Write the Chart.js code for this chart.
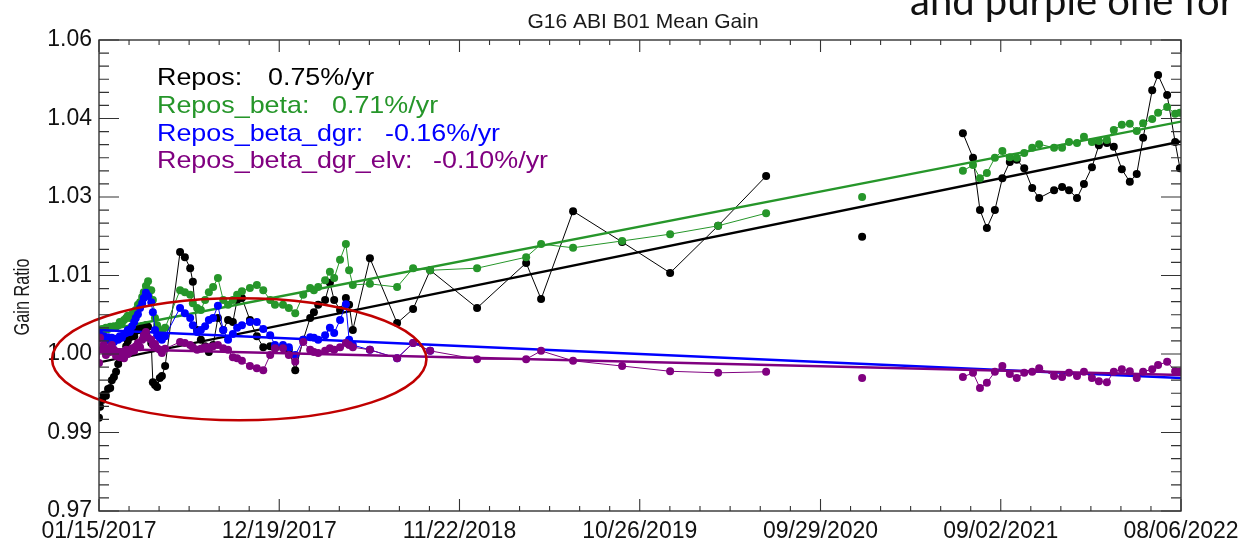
<!DOCTYPE html>
<html><head><meta charset="utf-8">
<script src="https://cdn.jsdelivr.net/npm/chart.js@4.4.1/dist/chart.umd.min.js"></script>
<style>html,body{margin:0;padding:0;background:#fff;overflow:hidden}#wrap{width:1239px;height:544px;position:relative}</style>
</head><body><div id="wrap"><canvas id="c" width="1239" height="544"></canvas></div>
<script>
// ---------- data ----------
const xTickLabels = ['01/15/2017','12/19/2017','11/22/2018','10/26/2019','09/29/2020','09/02/2021','08/06/2022'];
const yTickValues = [0.970,0.985,1.000,1.015,1.030,1.045,1.060];
const yTickLabels = ['0.97','0.99','1.00','1.01','1.03','1.04','1.06'];

// days since 01/15/2017
const dates = [
0,2,6,9,13,17,21,24,28,32,36,39,43,47,51,54,58,62,66,69,73,77,81,84,88,92,98,101,105,109,114,118,124,
152,161,171,176,184,191,199,206,214,223,233,242,251,259,268,283,296,308,321,330,345,356,368,383,396,403,411,424,433,441,452,463,469,476,508,559,589,621,
709,801,829,889,981,1071,1161,1251,1431,
1620,1639,1652,1665,1680,1694,1708,1721,1735,1750,1763,1791,1806,1819,1834,1847,1862,1875,1890,1903,1918,1933,1946,1958,1975,1986,2003,2018,2027
];

const repos = [
0.9878,0.9899,0.9912,0.9922,0.9920,0.9933,0.9935,0.9950,0.9956,0.9966,0.9981,0.9992,0.9996,1.0004,1.0015,1.0025,1.0032,1.0038,1.0034,1.0044,1.0048,1.0046,1.0053,1.0050,1.0055,1.0052,1.0021,0.9946,0.9941,0.9937,0.9954,0.9958,0.9977,
1.0195,1.0185,1.0164,1.0138,1.0046,1.0027,1.0015,1.0004,1.0017,1.0069,1.0046,1.0065,1.0061,1.0103,1.0107,1.0065,1.0034,1.0013,1.0015,1.0011,1.0013,1.0008,0.9969,1.0027,1.0069,1.0080,1.0094,1.0103,1.0136,1.0103,1.0084,1.0107,1.0094,1.0046,1.0183,1.0059,1.0086,1.0160,
1.0088,1.0174,1.0105,1.0273,1.0214,1.0155,1.0245,1.0340,1.0224,
1.0422,1.0375,1.0275,1.0241,1.0275,1.0336,1.0367,1.0371,1.0355,1.0317,1.0298,1.0313,1.0319,1.0313,1.0298,1.0325,1.0357,1.0399,1.0403,1.0396,1.0353,1.0329,1.0344,1.0413,1.0504,1.0533,1.0495,1.0405,1.0355
];
const reposBeta = [
1.0044,1.0046,1.0048,1.0046,1.0050,1.0048,1.0052,1.0050,1.0053,1.0052,1.0055,1.0061,1.0059,1.0065,1.0069,1.0073,1.0069,1.0076,1.0080,1.0084,1.0094,1.0099,1.0109,1.0118,1.0130,1.0139,1.0122,1.0103,1.0069,1.0055,1.0046,1.0042,1.0050,
1.0122,1.0118,1.0113,1.0097,1.0088,1.0084,1.0103,1.0118,1.0128,1.0145,1.0103,1.0094,1.0103,1.0113,1.0120,1.0126,1.0132,1.0122,1.0103,1.0094,1.0094,1.0088,1.0078,1.0113,1.0126,1.0122,1.0128,1.0141,1.0157,1.0145,1.0180,1.0210,1.0160,1.0132,1.0134,1.0128,1.0164,1.0160,
1.0164,1.0185,1.0210,1.0203,1.0216,1.0229,1.0245,1.0269,1.0300,
1.0350,1.0361,1.0336,1.0346,1.0375,1.0388,1.0376,1.0375,1.0384,1.0394,1.0401,1.0394,1.0394,1.0405,1.0403,1.0415,1.0405,1.0407,1.0409,1.0428,1.0438,1.0440,1.0426,1.0441,1.0449,1.0461,1.0472,1.0459,1.0461
];
const reposBetaDgr = [
1.0040,1.0036,1.0031,1.0034,1.0027,1.0032,1.0025,1.0031,1.0023,1.0029,1.0027,1.0034,1.0031,1.0038,1.0040,1.0046,1.0042,1.0053,1.0061,1.0069,1.0076,1.0088,1.0097,1.0107,1.0117,1.0111,1.0099,1.0080,1.0046,1.0036,1.0031,1.0027,1.0034,
1.0088,1.0078,1.0069,1.0055,1.0042,1.0046,1.0053,1.0065,1.0069,1.0092,1.0046,1.0027,1.0038,1.0050,1.0055,1.0061,1.0061,1.0048,1.0036,1.0017,1.0017,1.0013,0.9998,1.0027,1.0032,1.0031,1.0027,1.0036,1.0050,1.0040,1.0065,1.0095,1.0027,1.0017,1.0008,0.9992,1.0021,1.0006
];
const reposBetaDgrElv = [
0.9983,1.0031,1.0008,1.0017,0.9998,1.0011,1.0004,1.0017,1.0008,0.9996,1.0004,0.9994,1.0002,0.9992,1.0008,1.0000,1.0004,1.0011,1.0006,1.0015,1.0021,1.0013,1.0027,1.0036,1.0042,1.0031,1.0027,1.0017,1.0019,1.0011,1.0008,1.0002,1.0010,
1.0023,1.0021,1.0017,1.0013,1.0008,1.0010,1.0013,1.0013,1.0015,1.0017,1.0011,1.0008,0.9994,0.9992,0.9987,0.9977,0.9973,0.9969,0.9998,1.0011,1.0011,0.9998,0.9985,1.0023,1.0008,1.0004,1.0002,1.0006,1.0011,1.0008,1.0013,1.0021,1.0017,1.0013,1.0008,0.9992,1.0021,1.0006,
0.9990,0.9990,1.0006,0.9987,0.9977,0.9967,0.9964,0.9966,0.9954,
0.9956,0.9964,0.9935,0.9945,0.9966,0.9977,0.9962,0.9954,0.9964,0.9966,0.9973,0.9958,0.9956,0.9964,0.9958,0.9966,0.9954,0.9948,0.9946,0.9966,0.9971,0.9967,0.9954,0.9966,0.9971,0.9979,0.9985,0.9967,0.9966
];

// linear fits: value at first and last day
const trendStart = [0.9984, 1.0043, 1.0046, 1.0010];
const trendEnd   = [1.0406, 1.0444, 0.9954, 0.9960];

const seriesNames = ['Repos:', 'Repos_beta:', 'Repos_beta_dgr:', 'Repos_beta_dgr_elv:'];
const seriesRates = ['0.75%/yr', '0.71%/yr', '-0.16%/yr', '-0.10%/yr'];
const seriesColors = ['#000000', '#26962a', '#0000ff', '#800080'];

// annotation ellipse (data units): center day, center value, half-width days, half-height value
const ellipseSpec = [263, 0.9990, 351, 0.01166];
const titleText = 'G16 ABI B01 Mean Gain';
const yAxisTitle = 'Gain Ratio';
const slideText = 'and purple one for';

// ---------- build ----------
function dayOf(s){const p=s.split('/').map(Number);return (Date.UTC(p[2],p[0]-1,p[1])-Date.UTC(2017,0,15))/86400000;}
const xTickValues = xTickLabels.map(dayOf);
const allSeries = [repos, reposBeta, reposBetaDgr, reposBetaDgrElv];

const gapSeg = {
  borderColor: ctx => (ctx.p1.parsed.x - ctx.p0.parsed.x > 150) ? 'rgba(0,0,0,0)' : undefined
};

const datasets = [];
// draw order: purple on top, then blue, green, black
for (let k = 3; k >= 0; k--) {
  const col = seriesColors[k];
  datasets.push({
    label: seriesNames[k] + ' fit',
    data: [{x: xTickValues[0], y: trendStart[k]}, {x: xTickValues[6], y: trendEnd[k]}],
    borderColor: col, borderWidth: 2.4, pointRadius: 0, fill: false, tension: 0
  });
  datasets.push({
    label: seriesNames[k],
    data: allSeries[k].map((v, i) => ({x: dates[i], y: v})),
    borderColor: col, backgroundColor: col, borderWidth: 1, pointRadius: 4,
    pointBorderWidth: 0, pointBackgroundColor: col, fill: false, tension: 0,
    segment: gapSeg
  });
}

const FONT = "'Liberation Sans', Arial, Helvetica, sans-serif";

const decor = {
  id: 'decor',
  afterDatasetsDraw(chart) {
    const {ctx, chartArea: a, scales: {x, y}} = chart;
    ctx.save();
    // ellipse annotation
    const cx = x.getPixelForValue(ellipseSpec[0]);
    const cy = y.getPixelForValue(ellipseSpec[1]);
    const rx = x.getPixelForValue(ellipseSpec[0] + ellipseSpec[2]) - cx;
    const ry = y.getPixelForValue(ellipseSpec[1] - ellipseSpec[3]) - cy;
    ctx.beginPath();
    ctx.ellipse(cx, cy, rx, ry, 0, 0, Math.PI * 2);
    ctx.strokeStyle = '#c00000'; ctx.lineWidth = 2.6; ctx.stroke();

    // frame
    ctx.strokeStyle = '#333'; ctx.lineWidth = 1.4;
    ctx.strokeRect(a.left, a.top, a.right - a.left, a.bottom - a.top);
    // ticks
    ctx.lineWidth = 1.1;
    ctx.beginPath();
    for (let i = 0; i < yTickValues.length; i++) {
      const py = y.getPixelForValue(yTickValues[i]);
      ctx.moveTo(a.left, py); ctx.lineTo(a.left + 20, py);
      ctx.moveTo(a.right, py); ctx.lineTo(a.right - 20, py);
      if (i < yTickValues.length - 1) {
        const step = (yTickValues[i + 1] - yTickValues[i]) / 6;
        for (let m = 1; m < 6; m++) {
          const pm = y.getPixelForValue(yTickValues[i] + m * step);
          ctx.moveTo(a.left, pm); ctx.lineTo(a.left + 10, pm);
          ctx.moveTo(a.right, pm); ctx.lineTo(a.right - 10, pm);
        }
      }
    }
    for (let i = 0; i < xTickValues.length; i++) {
      const px = x.getPixelForValue(xTickValues[i]);
      ctx.moveTo(px, a.bottom); ctx.lineTo(px, a.bottom - 12);
      ctx.moveTo(px, a.top); ctx.lineTo(px, a.top + 12);
      if (i < xTickValues.length - 1) {
        const step = (xTickValues[i + 1] - xTickValues[i]) / 6;
        for (let m = 1; m < 6; m++) {
          const pm = x.getPixelForValue(xTickValues[i] + m * step);
          ctx.moveTo(pm, a.bottom); ctx.lineTo(pm, a.bottom - 5);
          ctx.moveTo(pm, a.top); ctx.lineTo(pm, a.top + 5);
        }
      }
    }
    ctx.stroke();
    ctx.restore();
  },
  afterDraw(chart) {
    const {ctx} = chart;
    ctx.save();
    // title
    ctx.fillStyle = '#1a1a1a';
    ctx.font = '21px ' + FONT;
    ctx.textAlign = 'center'; ctx.textBaseline = 'alphabetic';
    ctx.fillText(titleText, 643, 28);
    // y title
    ctx.save();
    ctx.translate(23, 297); ctx.rotate(-Math.PI / 2); ctx.scale(0.74, 1);
    ctx.font = '22px ' + FONT; ctx.textBaseline = 'middle';
    ctx.fillText(yAxisTitle, 0, 0);
    ctx.restore();
    // legend block
    const rateX = [268, 332, 385, 433];
    const baseY = [85, 112.5, 140.5, 168];
    ctx.font = '24px ' + FONT; ctx.textAlign = 'left';
    for (let k = 0; k < 4; k++) {
      ctx.fillStyle = seriesColors[k];
      ctx.save(); ctx.translate(157, baseY[k]); ctx.scale(1.12, 1); ctx.fillText(seriesNames[k], 0, 0); ctx.restore();
      ctx.save(); ctx.translate(rateX[k], baseY[k]); ctx.scale(1.12, 1); ctx.fillText(seriesRates[k], 0, 0); ctx.restore();
    }
    // slide text fragment at top right
    ctx.fillStyle = '#111';
    ctx.font = "40px Lato, 'Open Sans', sans-serif";
    ctx.fillText(slideText, 910, 15);
    ctx.restore();
  }
};

new Chart(document.getElementById('c'), {
  type: 'line',
  data: { datasets },
  options: {
    responsive: false, animation: false, devicePixelRatio: 1,
    layout: { padding: { left: 0, right: 58, top: 40, bottom: 0 } },
    plugins: { legend: { display: false }, tooltip: { enabled: false }, title: { display: false } },
    scales: {
      x: {
        type: 'linear', min: xTickValues[0], max: xTickValues[xTickValues.length - 1],
        afterBuildTicks: s => { s.ticks = xTickValues.map(v => ({ value: v })); },
        afterFit: s => { s.height = 33; s.paddingLeft = 0; s.paddingRight = 0; },
        grid: { display: false, drawTicks: false }, border: { display: false },
        ticks: { autoSkip: false, maxRotation: 0, minRotation: 0, padding: 7, color: '#111',
                 font: { family: FONT, size: 23 }, callback: (v, i) => xTickLabels[i] }
      },
      y: {
        type: 'linear', min: yTickValues[0], max: yTickValues[yTickValues.length - 1],
        afterBuildTicks: s => { s.ticks = yTickValues.map(v => ({ value: v })); },
        afterFit: s => { s.width = 99; s.paddingTop = 0; s.paddingBottom = 0; },
        grid: { display: false, drawTicks: false }, border: { display: false },
        ticks: { padding: 7, color: '#111', font: { family: FONT, size: 23 },
                 callback: (v, i) => yTickLabels[i] }
      }
    }
  },
  plugins: [decor]
});
</script></body></html>
